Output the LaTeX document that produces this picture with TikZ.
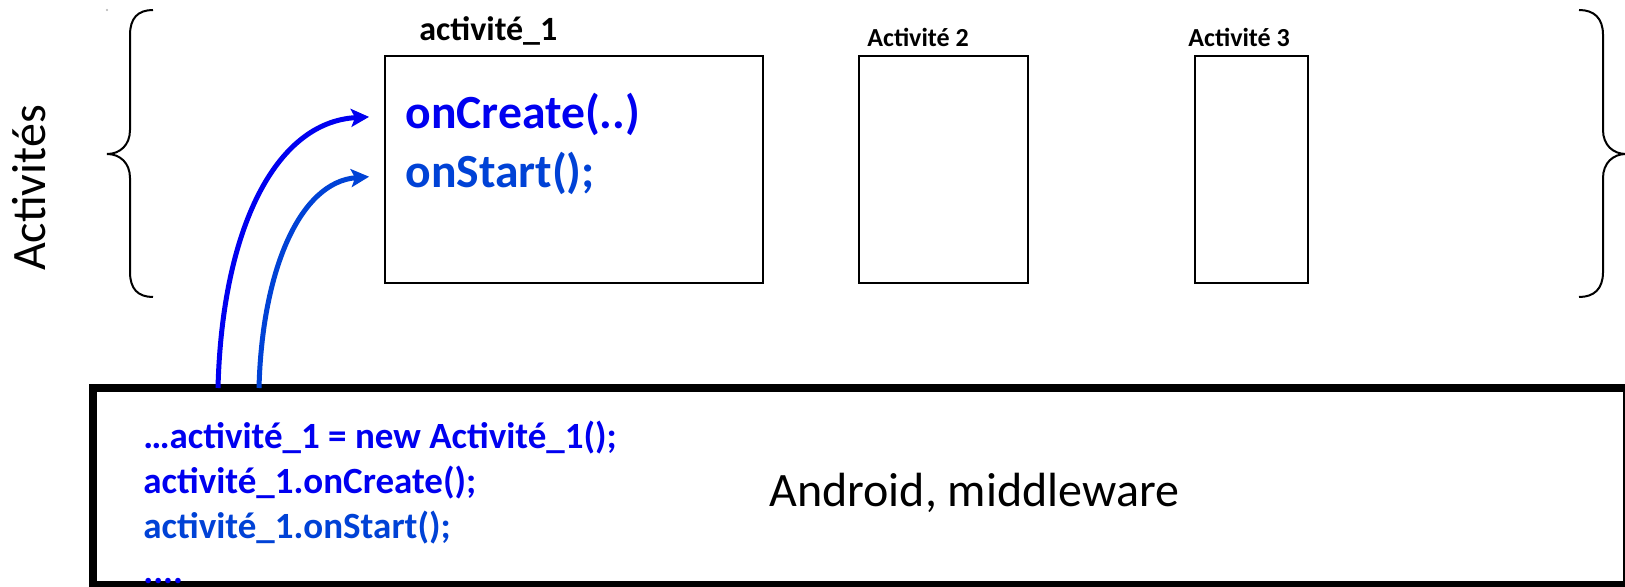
\documentclass[tikz,border=0pt]{standalone}
\usepackage{fontspec}
\setmainfont{Carlito}
\usetikzlibrary{arrows.meta}
\definecolor{callblue}{RGB}{0,0,240}
\definecolor{startblue}{RGB}{0,66,214}
\tikzset{
  frame/.style={draw=black,line width=1.2pt,inner sep=0pt},
  midbox/.style={draw=black,line width=4pt,inner sep=0pt},
  txt/.style={inner sep=0pt,anchor=base west},
  brace/.style={draw=black,line width=1pt},
  callarrow/.style={line width=2.5pt,-{Stealth[length=9pt,width=9pt,inset=2pt]},shorten >=18pt}
}
\begin{document}
\begin{tikzpicture}[x=0.5pt,y=-0.5pt]
\useasboundingbox (0,0) rectangle (1625,587);
\clip (0,0) rectangle (1625,587);
\fill[white] (0,0) rectangle (1625,587);

% side label and braces
\node[inner sep=0pt,anchor=base,rotate=90,font=\fontsize{24}{28}\selectfont] (lbl) at (45,188) {Activités};
\fill[gray!60] (107,10) circle (0.6pt);
\path[brace] (153,10) .. controls (138,10) and (130,18) .. (130,35) -- (130,130)
  .. controls (130,145) and (120,154) .. (107,154)
  .. controls (120,154) and (130,163) .. (130,178) -- (130,272)
  .. controls (130,289) and (138,297) .. (153,297);
\path[brace] (1579,10) .. controls (1594,10) and (1603,18) .. (1603,35) -- (1603,130)
  .. controls (1603,145) and (1613,154) .. (1626,154)
  .. controls (1613,154) and (1603,163) .. (1603,178) -- (1603,272)
  .. controls (1603,289) and (1594,297) .. (1579,297);

% activity boxes
\node[frame,minimum width=189pt,minimum height=113.5pt] (act1) at (574,169.5) {};
\node[frame,minimum width=84.5pt,minimum height=113.5pt] (act2) at (943.5,169.5) {};
\node[frame,minimum width=56.5pt,minimum height=113.5pt] (act3) at (1251.5,169.5) {};
\node[txt,font=\fontsize{17}{20}\selectfont\bfseries] (t1) at (419,41) {activité\_1};
\node[txt,font=\fontsize{13}{16}\selectfont\bfseries] (t2) at (867,47) {Activité 2};
\node[txt,font=\fontsize{13}{16}\selectfont\bfseries] (t3) at (1188,47) {Activité 3};
\node[txt,font=\fontsize{23.8}{28}\selectfont\bfseries,text=callblue] (oncreate) at (405,129) {onCreate(..)};
\node[txt,font=\fontsize{23.8}{28}\selectfont\bfseries,text=startblue] (onstart) at (405,188) {onStart();};

% middleware layer
\node[midbox,minimum width=767.25pt,minimum height=98.5pt] (mw) at (859.75,486.5) {};
\node[txt,font=\fontsize{24}{28}\selectfont] (android) at (769,506) {Android, middleware};
\node[txt,font=\fontsize{18.5}{22}\selectfont\bfseries,text=callblue] (c1) at (143,448) {…activité\_1 = new Activité\_1();};
\node[txt,font=\fontsize{18.5}{22}\selectfont\bfseries,text=callblue] (c2) at (143,493) {activité\_1.onCreate();};
\node[txt,font=\fontsize{18.5}{22}\selectfont\bfseries,text=startblue] (c3) at (143,538) {activité\_1.onStart();};
\node[txt,font=\fontsize{18.5}{22}\selectfont\bfseries,text=callblue] (c4) at (143,583) {....};

% calls from the middleware into the activity
\coordinate (s1) at (218,388);
\coordinate (s2) at (259,388);
\draw[callarrow,color=callblue] (s1) .. controls (222,230) and (275,122) .. (oncreate.west);
\draw[callarrow,color=startblue] (s2) .. controls (262,270) and (300,182) .. (onstart.west);
\end{tikzpicture}
\end{document}
